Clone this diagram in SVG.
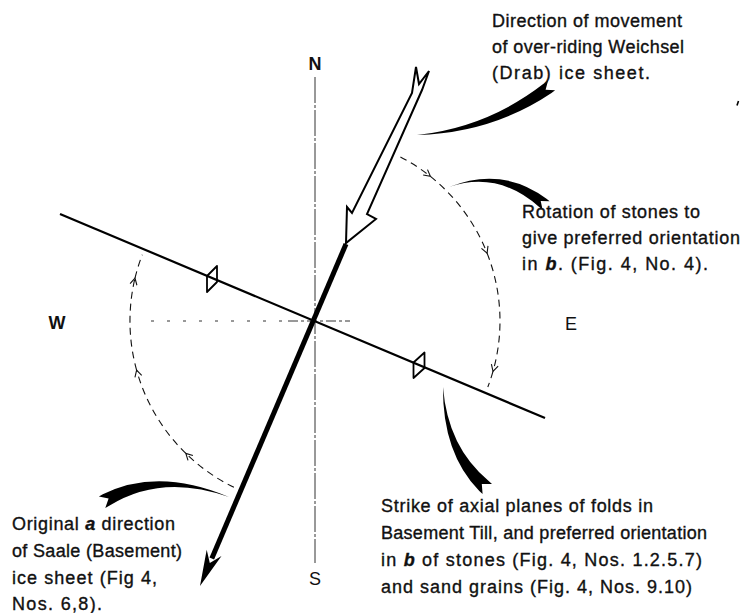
<svg xmlns="http://www.w3.org/2000/svg" width="745" height="613" viewBox="0 0 745 613">
<style>
.t{font-family:"Liberation Sans",Arial,sans-serif;font-size:18px;fill:#111;stroke:#111;stroke-width:0.35}
.bi{font-style:italic;font-weight:bold}
.cp{font-family:"Liberation Sans",Arial,sans-serif;font-size:18px;fill:#111;text-anchor:middle}
.axis{stroke:#333;stroke-width:1;fill:none}
.arc{stroke:#111;stroke-width:1.1;fill:none;stroke-dasharray:7 5}
.sw{fill:#000;stroke:none}
</style>
<defs>
<marker id="barb" viewBox="-8 -5 10 10" refX="0" refY="0" markerWidth="10" markerHeight="10" markerUnits="userSpaceOnUse" orient="auto">
<path d="M-6.5,-3.5 L0,0 L-6.5,3.5" fill="none" stroke="#111" stroke-width="1.1"/>
</marker>
</defs>

<g id="compass">
<line class="axis" x1="315" y1="77" x2="315" y2="563" stroke-dasharray="26 2 3 2"/>
<line class="axis" x1="151" y1="321" x2="288" y2="321" stroke="#888" stroke-dasharray="3 13"/>
<line class="axis" x1="288" y1="321" x2="350" y2="321" stroke="#555" stroke-dasharray="10 3 3 3"/>
<text class="cp" x="315" y="70" font-weight="bold">N</text>
<text class="cp" x="315" y="585">S</text>
<text class="cp" x="57" y="329" font-weight="bold">W</text>
<text class="cp" x="571" y="330">E</text>
</g>

<g id="strike-line">
<line x1="60" y1="214" x2="545" y2="418" stroke="#000" stroke-width="2.2"/>
<path d="M217,266 V282 L207,292 V276 Z" fill="none" stroke="#000" stroke-width="1.8" stroke-linejoin="round"/>
<path d="M424.5,352.5 V368 L413.5,378 V362.5 Z" fill="none" stroke="#000" stroke-width="1.8" stroke-linejoin="round"/>
</g>

<g id="saale-direction">
<line x1="346" y1="244" x2="211.8" y2="558.4" stroke="#000" stroke-width="5"/>
<polygon points="200,586 206.7,549.8 209.8,563 221.5,556" fill="#000"/>
</g>

<g id="weichsel-direction">
<polygon points="346,243 347,207 352,213 412,93 416,67 419,84 429,71 422,90 367,214 376,219" fill="#fff" stroke="#000" stroke-width="2" stroke-linejoin="miter"/>
</g>

<g id="connectors">
<path class="arc" d="M400.4,156.9 A185,185 0 0 1 430.4,176.4" marker-end="url(#barb)"/>
<path class="arc" d="M430.4,176.4 A185,185 0 0 1 487.1,253.2" marker-end="url(#barb)"/>
<path class="arc" d="M487.1,253.2 A185,185 0 0 1 493,371.4" marker-end="url(#barb)"/>
<path class="arc" d="M493,371.4 A185,185 0 0 1 487.8,387"/>
<path class="arc" d="M233.9,487.3 A185,185 0 0 1 185.8,453.4" marker-end="url(#barb)"/>
<path class="arc" d="M185.8,453.4 A185,185 0 0 1 136.6,370.1" marker-end="url(#barb)"/>
<path class="arc" d="M136.6,370.1 A185,185 0 0 1 135,278.1" marker-end="url(#barb)"/>
<path class="arc" d="M135,278.1 A185,185 0 0 1 142.3,254.7"/>
<path class="sw" d="M417,135 Q492.1,132.8 551.5,92.9 L555.1,90.3 L545.6,89.8 L548.1,80.5 L544.5,83.1 Q487.9,127.2 417,135 Z"/>
<path class="sw" d="M449,187 Q501.9,165.7 546.5,198.7 L549.6,201.2 L540.7,201.1 L542.6,209.8 L539.5,207.3 Q498.1,170.3 449,187 Z"/>
<path class="sw" d="M443,387 Q447.7,447.1 488.7,480.9 L492,483.9 L481.8,484 L482.6,494.1 L479.3,491.1 Q442.3,452.9 443,387 Z"/>
<path class="sw" d="M229,497 Q158.3,466.9 102.8,494.3 L98.9,496.5 L108.6,498.5 L105.3,507.9 L109.2,505.7 Q161.7,473.1 229,497 Z"/>
</g>

<g id="label-weichsel">
<text class="t" x="492" y="27" textLength="190" lengthAdjust="spacing">Direction of movement</text>
<text class="t" x="492" y="53" textLength="192" lengthAdjust="spacing">of over-riding Weichsel</text>
<text class="t" x="492" y="79" textLength="158" lengthAdjust="spacing">(Drab) ice sheet.</text>
</g>

<g id="label-rotation">
<text class="t" x="522" y="218" textLength="178" lengthAdjust="spacing">Rotation of stones to</text>
<text class="t" x="522" y="244" textLength="218" lengthAdjust="spacing">give preferred orientation</text>
<text class="t" x="522" y="270" textLength="186" lengthAdjust="spacing">in <tspan class="bi">b</tspan>. (Fig. 4, No. 4).</text>
</g>

<g id="label-strike">
<text class="t" x="381" y="512" textLength="272" lengthAdjust="spacing">Strike of axial planes of folds in</text>
<text class="t" x="381" y="539" textLength="326" lengthAdjust="spacing">Basement Till, and preferred orientation</text>
<text class="t" x="381" y="566" textLength="321" lengthAdjust="spacing">in <tspan class="bi">b</tspan> of stones (Fig. 4, Nos. 1.2.5.7)</text>
<text class="t" x="381" y="593" textLength="311" lengthAdjust="spacing">and sand grains (Fig. 4, Nos. 9.10)</text>
</g>

<g id="label-saale">
<text class="t" x="12" y="530" textLength="163" lengthAdjust="spacing">Original <tspan class="bi">a</tspan> direction</text>
<text class="t" x="12" y="557" textLength="170" lengthAdjust="spacing">of Saale (Basement)</text>
<text class="t" x="12" y="584" textLength="145" lengthAdjust="spacing">ice sheet (Fig 4,</text>
<text class="t" x="12" y="610" textLength="90" lengthAdjust="spacing">Nos. 6,8).</text>
</g>

<path d="M738.5,101 l-1.5,4.5" stroke="#000" stroke-width="1.6" fill="none"/>
</svg>
